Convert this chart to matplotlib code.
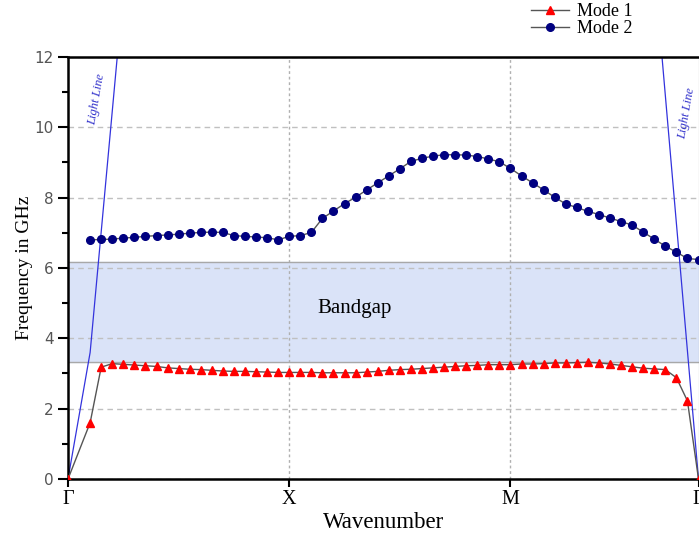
import numpy as np
import matplotlib
matplotlib.use("Agg")
import matplotlib.pyplot as plt

# wavevector sample index along the path G-X-M-G
k_ticks = [0, 20, 40, 57]
k_labels = ["\u0393", "X", "M", "\u0393"]

k_mode1 = [0] + list(range(2, 58))
f_mode1 = [0.0,
           1.60, 3.18, 3.28, 3.26, 3.24, 3.22, 3.20, 3.16, 3.14, 3.12,
           3.11, 3.09, 3.07, 3.06, 3.06, 3.05, 3.04, 3.03, 3.03, 3.03,
           3.03, 3.02, 3.02, 3.02, 3.02, 3.04, 3.06, 3.09, 3.11, 3.12,
           3.14, 3.16, 3.18, 3.20, 3.22, 3.23, 3.25, 3.25, 3.25, 3.27,
           3.27, 3.28, 3.30, 3.30, 3.31, 3.32, 3.30, 3.27, 3.23, 3.19,
           3.15, 3.13, 3.11, 2.88, 2.22, 0.0]

k_mode2 = list(range(2, 58))
f_mode2 = [6.80, 6.81, 6.82, 6.85, 6.87, 6.90, 6.92, 6.94, 6.96, 6.99,
           7.01, 7.02, 7.01, 6.92, 6.90, 6.88, 6.86, 6.80, 6.90, 6.92,
           7.01, 7.41, 7.62, 7.83, 8.01, 8.22, 8.42, 8.62, 8.82, 9.03,
           9.12, 9.18, 9.22, 9.22, 9.21, 9.17, 9.10, 9.02, 8.83, 8.62,
           8.42, 8.22, 8.01, 7.82, 7.72, 7.61, 7.52, 7.42, 7.32, 7.22,
           7.02, 6.82, 6.62, 6.45, 6.27, 6.24]

# light lines near the two Gamma points
light_k1 = [0, 2.0, 4.45]
light_f1 = [0, 3.6, 12]
light_k2 = [57, 53.7]
light_f2 = [0, 12]

gap_low, gap_high = 3.32, 6.17

serif = ["Liberation Serif", "DejaVu Serif"]

fig = plt.figure(figsize=(6.99, 5.35), dpi=100)
ax = fig.add_axes([0.0973, 0.1047, 0.9020, 0.7888])

ax.axhspan(gap_low, gap_high, color="#dae3f8", zorder=0)
ax.axhline(gap_low, color="#a8a8a8", lw=1, zorder=1)
ax.axhline(gap_high, color="#a8a8a8", lw=1, zorder=1)
ax.text(25.9, 4.86, "Bandgap", family=serif, fontsize=15, ha="center", va="center")

ax.plot(light_k1, light_f1, color="#3333dd", lw=0.9, zorder=2)
ax.plot(light_k2, light_f2, color="#3333dd", lw=0.9, zorder=2)
ax.text(2.6, 10.8, "Light Line", family=serif, style="italic", fontsize=9,
        color="#3333cc", rotation=80, ha="center", va="center")
ax.text(55.9, 10.4, "Light Line", family=serif, style="italic", fontsize=9,
        color="#3333cc", rotation=80, ha="center", va="center")

ax.plot(k_mode1, f_mode1, color="#555555", lw=1, marker="^", ms=6,
        mfc="red", mec="red", label="Mode 1", zorder=3)
ax.plot(k_mode2, f_mode2, color="#555555", lw=1, marker="o", ms=5.5,
        mfc="#000080", mec="#000080", label="Mode 2", zorder=3)

ax.set_xlim(0, 57)
ax.set_ylim(0, 12)
ax.set_xticks(k_ticks)
ax.set_xticklabels(k_labels, family=serif, fontsize=14.5)
ax.set_yticks([0, 2, 4, 6, 8, 10, 12])
ax.set_yticks([1, 3, 5, 7, 9, 11], minor=True)
ax.tick_params(axis="y", which="major", length=7, width=1.5, labelsize=11,
               labelcolor="#555555", direction="out")
ax.tick_params(axis="y", which="minor", length=4, width=1.5, direction="out")
ax.tick_params(axis="x", length=6, width=1.5, direction="out", pad=2)

ax.grid(axis="y", which="major", ls=(0, (4, 3)), color="#c0c0c0", lw=1)
for kx in k_ticks[1:3]:
    ax.axvline(kx, ls=(0, (2, 2)), color="#b0b0b0", lw=1, zorder=0.5)

for s in ["left", "bottom", "top"]:
    ax.spines[s].set_linewidth(1.8)
ax.spines["right"].set_color("#888888")

ax.set_xlabel("Wavenumber", family=serif, fontsize=16.5, labelpad=2)
ax.set_ylabel("Frequency in GHz", family=serif, fontsize=14, labelpad=1)

leg = fig.legend(loc="upper left", bbox_to_anchor=(0.737, 1.024), frameon=False,
                 prop={"family": serif, "size": 13}, handlelength=2.1,
                 labelspacing=0.0, handletextpad=0.4)

fig.savefig("out.png", dpi=100)
